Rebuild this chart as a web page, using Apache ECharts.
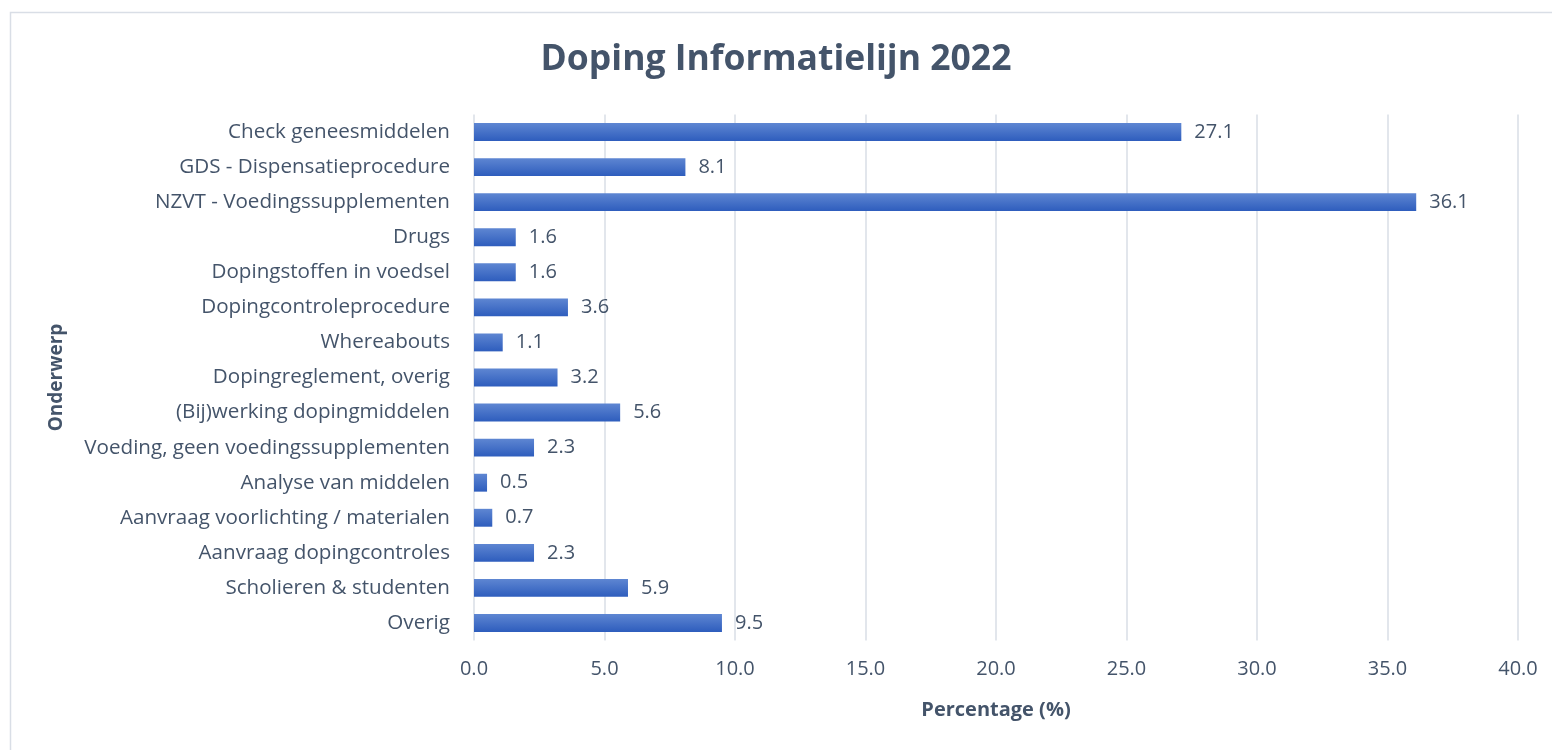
<!DOCTYPE html>
<html>
<head>
<meta charset="utf-8">
<script src="https://cdn.jsdelivr.net/npm/echarts@6/dist/echarts.min.js"></script>
<style>
html,body{margin:0;padding:0;background:#fff;}
#c{width:1552px;height:750px;}
</style>
</head>
<body>
<div id="c"></div>
<script>
const categories = [
  "Check geneesmiddelen",
  "GDS - Dispensatieprocedure",
  "NZVT - Voedingssupplementen",
  "Drugs",
  "Dopingstoffen in voedsel",
  "Dopingcontroleprocedure",
  "Whereabouts",
  "Dopingreglement, overig",
  "(Bij)werking dopingmiddelen",
  "Voeding, geen voedingssupplementen",
  "Analyse van middelen",
  "Aanvraag voorlichting / materialen",
  "Aanvraag dopingcontroles",
  "Scholieren & studenten",
  "Overig"
];
const values = [27.1, 8.1, 36.1, 1.6, 1.6, 3.6, 1.1, 3.2, 5.6, 2.3, 0.5, 0.7, 2.3, 5.9, 9.5];
const titleText = "Doping Informatielijn 2022";
const xAxisName = "Percentage (%)";
const yAxisName = "Onderwerp";

const FONT = "Open Sans";
const TXT = "#44546A";
const chart = echarts.init(document.getElementById('c'), null, {renderer:'canvas'});
chart.setOption({
  backgroundColor: '#fff',
  animation: false,
  graphic: [{
    type: 'rect', left: 8, top: 10,
    shape: {width: 1560, height: 760},
    style: {fill: 'none', stroke: '#D9DEE6', lineWidth: 1.5},
    silent: true
  }],
  title: {
    text: titleText, left: 'center', top: 37,
    textStyle: {fontFamily: FONT, fontSize: 35.5, fontWeight: 'bold', color: TXT}
  },
  grid: {left: 474, right: 34, top: 114.5, bottom: 109.5, containLabel: false},
  xAxis: {
    type: 'value', min: 0, max: 40, interval: 5,
    name: xAxisName, nameLocation: 'middle', nameGap: 60,
    nameTextStyle: {fontFamily: FONT, fontSize: 20, fontWeight: 'bold', color: TXT},
    axisLine: {show: false}, axisTick: {show: false},
    axisLabel: {fontFamily: FONT, fontSize: 20, color: TXT, margin: 19,
      formatter: v => v.toFixed(1)},
    splitLine: {show: true, lineStyle: {color: '#D9DEE6', width: 1.5}}
  },
  yAxis: {
    type: 'category', data: categories, inverse: true,
    name: yAxisName, nameLocation: 'middle', nameGap: 408, nameRotate: 90,
    nameTextStyle: {fontFamily: FONT, fontSize: 19, fontWeight: 'bold', color: TXT},
    axisLine: {show: false}, axisTick: {show: false},
    axisLabel: {fontFamily: FONT, fontSize: 20.6, color: TXT, margin: 24}
  },
  series: [{
    type: 'bar', data: values, barCategoryGap: '49%',
    itemStyle: {color: new echarts.graphic.LinearGradient(0, 0, 0, 1, [
      {offset: 0, color: '#5E86D2'}, {offset: 1, color: '#2E5DBD'}
    ])},
    label: {show: true, position: 'right', distance: 13,
      fontFamily: FONT, fontSize: 20, color: TXT,
      formatter: p => p.value.toFixed(1)}
  }]
});
</script>
</body>
</html>
